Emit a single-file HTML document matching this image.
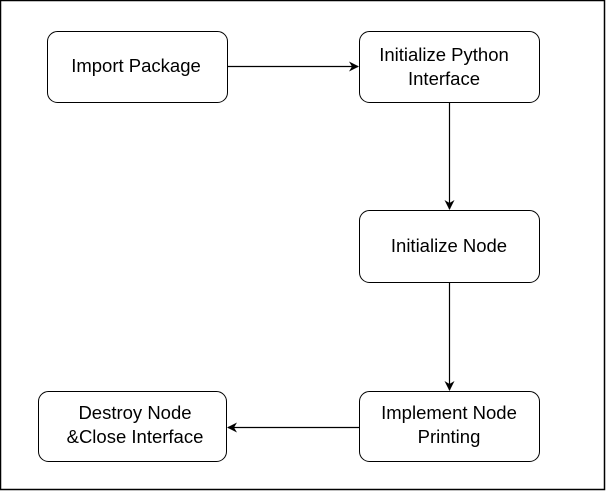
<!DOCTYPE html>
<html><head><style>
html,body{margin:0;padding:0;background:#fff;width:607px;height:491px;overflow:hidden}
svg{display:block}
text{font-family:"Liberation Sans",Arial,sans-serif;font-size:18.5px;fill:#000}
</style></head><body>
<svg width="607" height="491" viewBox="0 0 607 491">
<defs><marker id="a" markerWidth="10" markerHeight="10" refX="9" refY="5" orient="auto" markerUnits="userSpaceOnUse"><path d="M0,0 L10,5 L0,10 L3,5 Z" fill="#000"/></marker></defs>
<rect x="0.5" y="0.5" width="604" height="489" fill="#fff" stroke="#000" stroke-width="1.5"/>
<g fill="#fff" stroke="#000" stroke-width="1">
<rect x="47.5" y="31.5" width="180" height="71" rx="10"/>
<rect x="359.5" y="31.5" width="180" height="71" rx="10"/>
<rect x="359.5" y="210.5" width="180" height="72" rx="10"/>
<rect x="359.5" y="391.5" width="180" height="70" rx="10"/>
<rect x="38.5" y="391.5" width="188" height="70" rx="10"/>
</g>
<g stroke="#000" stroke-width="1.2" fill="none">
<line x1="228" y1="66.5" x2="358" y2="66.5" marker-end="url(#a)"/>
<line x1="449.5" y1="103" x2="449.5" y2="209" marker-end="url(#a)"/>
<line x1="449.5" y1="283" x2="449.5" y2="390" marker-end="url(#a)"/>
<line x1="359" y1="427.5" x2="228" y2="427.5" marker-end="url(#a)"/>
</g>
<g text-anchor="middle">
<text x="136" y="72">Import Package</text>
<text x="444" y="61">Initialize Python</text>
<text x="444" y="85">Interface</text>
<text x="449" y="252">Initialize Node</text>
<text x="449" y="419">Implement Node</text>
<text x="449" y="443">Printing</text>
<text x="135" y="419">Destroy Node</text>
<text x="135" y="443">&amp;Close Interface</text>
</g>
</svg>
</body></html>
